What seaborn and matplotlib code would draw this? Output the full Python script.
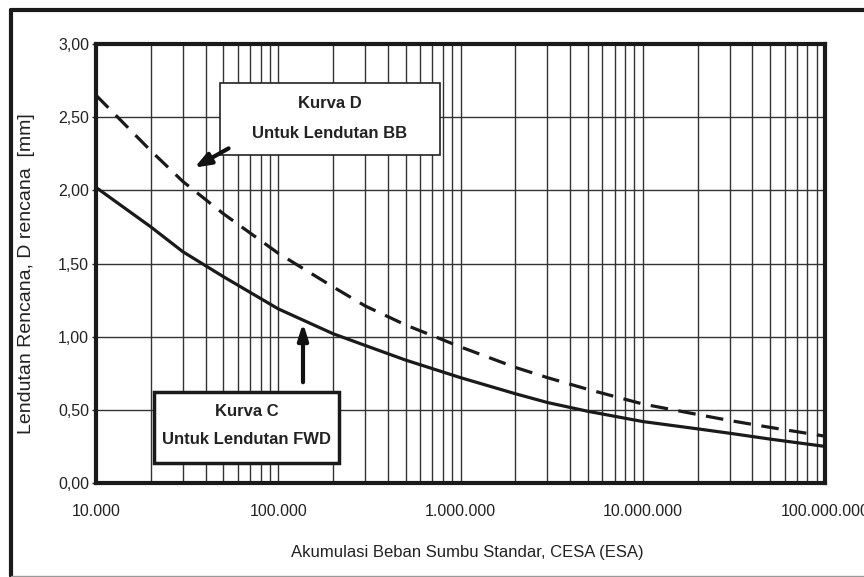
import matplotlib
matplotlib.use("Agg")
import matplotlib.pyplot as plt
from matplotlib.patches import Rectangle
from matplotlib.lines import Line2D
from matplotlib.ticker import FixedLocator, FuncFormatter, LogLocator, NullFormatter
import seaborn as sns
import pandas as pd

# Cumulative standard axle load (ESA)
cesa = [1e4, 2e4, 3e4, 5e4, 1e5, 2e5, 3e5, 5e5, 1e6, 2e6, 3e6, 5e6,
        1e7, 2e7, 3e7, 5e7, 1e8]
# Curve D: design deflection for Benkelman Beam (mm)
kurva_d = [2.65, 2.27, 2.06, 1.84, 1.57, 1.34, 1.21, 1.08, 0.93, 0.79,
           0.72, 0.64, 0.54, 0.468, 0.427, 0.38, 0.32]
# Curve C: design deflection for FWD (mm)
kurva_c = [2.02, 1.75, 1.58, 1.41, 1.19, 1.02, 0.94, 0.84, 0.72, 0.61,
           0.55, 0.49, 0.42, 0.37, 0.34, 0.30, 0.25]

x_ticks = [1e4, 1e5, 1e6, 1e7, 1e8]
x_tick_labels = ["10.000", "100.000", "1.000.000", "10.000.000", "100.000.000"]
y_ticks = [0.0, 0.5, 1.0, 1.5, 2.0, 2.5, 3.0]
y_tick_labels = ["0,00", "0,50", "1,00", "1,50", "2,00", "2,50", "3,00"]

sns.set_theme(style="white")
plt.rcParams["font.family"] = ["Liberation Sans", "DejaVu Sans"]

W, H = 864, 577
fig = plt.figure(figsize=(W / 100, H / 100), dpi=100)
ax = fig.add_axes([96 / W, 1 - 483 / H, (825 - 96) / W, (483 - 44) / H])

df = pd.DataFrame({"cesa": cesa * 2,
                   "d": kurva_d + kurva_c,
                   "kurva": ["D"] * len(cesa) + ["C"] * len(cesa)})

sns.lineplot(data=df[df.kurva == "D"], x="cesa", y="d", ax=ax, color="#1a1a1a",
             lw=2.3, linestyle=(0, (5.5, 3.3)), zorder=3)
sns.lineplot(data=df[df.kurva == "C"], x="cesa", y="d", ax=ax, color="#1a1a1a",
             lw=2.3, zorder=3)

ax.set_xscale("log")
ax.set_xlim(1e4, 1e8)
ax.set_ylim(0, 3)

ax.xaxis.set_major_locator(FixedLocator(x_ticks))
ax.xaxis.set_major_formatter(FuncFormatter(lambda v, p: x_tick_labels[x_ticks.index(v)] if v in x_ticks else ""))
ax.xaxis.set_minor_locator(LogLocator(base=10, subs=range(2, 10)))
ax.xaxis.set_minor_formatter(NullFormatter())
ax.set_yticks(y_ticks)
ax.set_yticklabels(y_tick_labels)

ax.grid(True, which="both", axis="x", color="#333333", lw=1.0)
ax.grid(True, which="major", axis="y", color="#333333", lw=1.0)
ax.set_axisbelow(True)

ax.tick_params(axis="x", which="both", length=0, labelsize=11.5, pad=15)
ax.tick_params(axis="y", length=3, width=1, color="#222222", labelsize=11.5,
               pad=2, left=True)
for lbl in ax.get_xticklabels() + ax.get_yticklabels():
    lbl.set_color("#222222")

for s in ax.spines.values():
    s.set_visible(True)
    s.set_color("#1a1a1a")
    s.set_linewidth(3)

ax.set_xlabel("")
ax.set_ylabel("")
fig.text(467 / W, 1 - 552 / H, "Akumulasi Beban Sumbu Standar, CESA (ESA)",
         ha="center", va="center", fontsize=12, color="#222222")
fig.text(27 / W, 1 - 274 / H, "Lendutan Rencana, D rencana  [mm]", rotation=90,
         ha="center", va="center", fontsize=14, color="#222222")


def fx(px):
    return (px - 96) / (825 - 96)


def fy(py):
    return (483 - py) / (483 - 44)


# Annotation box for curve D
ax.add_patch(Rectangle((fx(220), fy(155)), fx(440) - fx(220), fy(83) - fy(155),
                       transform=ax.transAxes, facecolor="white", edgecolor="#222222",
                       lw=1.2, zorder=5))
ax.text(fx(330), fy(104), "Kurva D", transform=ax.transAxes, ha="center", va="center",
        fontsize=12, fontweight="bold", color="#222222", zorder=6)
ax.text(fx(330), fy(133), "Untuk Lendutan BB", transform=ax.transAxes, ha="center",
        va="center", fontsize=12, fontweight="bold", color="#222222", zorder=6)
ax.annotate("", xy=(fx(192), fy(169)), xytext=(fx(231), fy(147)),
            xycoords="axes fraction", textcoords="axes fraction",
            arrowprops=dict(arrowstyle="-|>,head_length=0.8,head_width=0.3",
                            color="#111111", lw=3), zorder=6)

# Annotation box for curve C
ax.add_patch(Rectangle((fx(154), fy(463)), fx(339) - fx(154), fy(392) - fy(463),
                       transform=ax.transAxes, facecolor="white", edgecolor="#1a1a1a",
                       lw=2.5, zorder=5))
ax.text(fx(247), fy(412), "Kurva C", transform=ax.transAxes, ha="center", va="center",
        fontsize=12, fontweight="bold", color="#222222", zorder=6)
ax.text(fx(247), fy(440), "Untuk Lendutan FWD", transform=ax.transAxes, ha="center",
        va="center", fontsize=12, fontweight="bold", color="#222222", zorder=6)
ax.annotate("", xy=(fx(303), fy(320)), xytext=(fx(303), fy(385)),
            xycoords="axes fraction", textcoords="axes fraction",
            arrowprops=dict(arrowstyle="-|>,head_length=0.8,head_width=0.25",
                            color="#111111", lw=3), zorder=6)

# Outer frame of the figure
fig.add_artist(Line2D([11 / W, 1], [1 - 10 / H, 1 - 10 / H], transform=fig.transFigure,
                      color="#1a1a1a", lw=3))
fig.add_artist(Line2D([11 / W, 11 / W], [1 - 10 / H, 1 - 576 / H], transform=fig.transFigure,
                      color="#1a1a1a", lw=3))
fig.add_artist(Line2D([11 / W, 1], [1 - 575.5 / H, 1 - 575.5 / H], transform=fig.transFigure,
                      color="#999999", lw=1))

fig.savefig("out.png", dpi=100)
